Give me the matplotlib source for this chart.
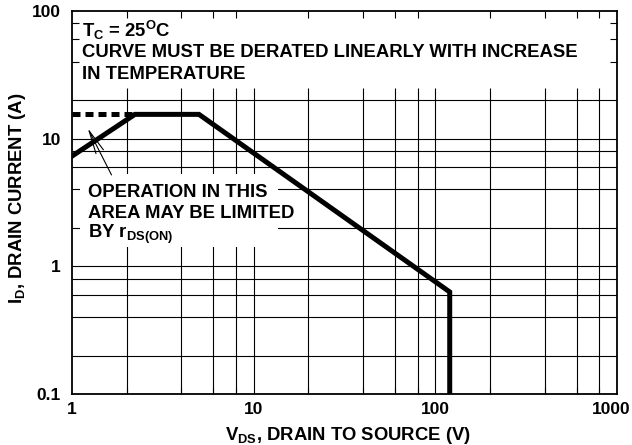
import matplotlib
matplotlib.use("Agg")
from matplotlib import pyplot as plt
from matplotlib.patches import Rectangle
from matplotlib.transforms import ScaledTranslation

plt.rcParams['font.family'] = 'Liberation Sans'
plt.rcParams['font.weight'] = 'bold'
plt.rcParams['mathtext.fontset'] = 'custom'
plt.rcParams['mathtext.rm'] = 'Liberation Sans:bold'
plt.rcParams['mathtext.it'] = 'Liberation Sans:bold'
plt.rcParams['mathtext.bf'] = 'Liberation Sans:bold'

# safe operating area curve
vds = [1, 2.22, 5.0, 120, 120]
i_d = [7.3, 15.5, 15.5, 0.63, 0.1]
# rds(on) limited extension
vds_dash = [1, 2.22]
id_dash = [15.5, 15.5]

x_grid = [2, 4, 6, 8, 10, 20, 40, 60, 80, 100, 200, 400, 600, 800]
y_grid = [0.2, 0.4, 0.6, 0.8, 1, 2, 4, 6, 8, 10, 20]
x_major = [1, 10, 100, 1000]
x_major_labels = ['1', '10', '100', '1000']
y_major = [0.1, 1, 10, 100]
y_major_labels = ['0.1', '1', '10', '100']

fig = plt.figure(figsize=(6.32, 4.45), dpi=100)
ax = fig.add_axes([72/632, 1-394/445, 545/632, 383/445])
ax.set_xscale('log')
ax.set_yscale('log')
ax.set_xlim(1, 1000)
ax.set_ylim(0.1, 100)

# grid (stops below the note at the top)
ax.vlines(x_grid, 0.1, 25, colors='black', lw=0.8, zorder=1)
ax.hlines(y_grid, 1, 1000, colors='black', lw=0.8, zorder=1)

# white area behind the rds(on) note
ax.add_patch(Rectangle((1.1, 1.42), 13.6-1.1, 5.3-1.42, facecolor='white',
                       edgecolor='none', zorder=2))

ax.plot(vds, i_d, color='black', lw=3.6, solid_joinstyle='miter', zorder=4)
ax.plot(vds_dash, id_dash, color='black', lw=3.6, linestyle=(0, (1.6, 1.0)),
        dash_capstyle='butt', zorder=4)

ax.set_xticks(x_major)
ax.set_xticklabels(x_major_labels)
ax.set_yticks(y_major)
ax.set_yticklabels(y_major_labels)
ax.set_xticks(x_grid, minor=True)
ax.set_yticks([40, 60, 80], minor=True)
ax.tick_params(which='major', length=0, labelsize=12.5, pad=6)
ax.tick_params(axis='y', which='major', pad=8)
ax.tick_params(which='minor', direction='in', length=5, width=0.8,
               top=True, right=True, labelbottom=False, labelleft=False)
for lab in ax.get_xticklabels() + ax.get_yticklabels():
    lab.set_fontweight('bold')
# last x label sits a little to the left so it stays inside the figure
last = ax.get_xticklabels()[-1]
last.set_transform(last.get_transform() + ScaledTranslation(-6/100, 0, fig.dpi_scale_trans))
for s in ax.spines.values():
    s.set_linewidth(1.3)
    s.set_zorder(5)

fs = 13.3
ax.text(0.018, 0.933, r'T$_{\mathrm{C}}$ = 25$^{\mathrm{O}}$C', transform=ax.transAxes,
        fontsize=fs, fontweight='bold', va='baseline', zorder=6)
ax.text(0.018, 0.881, 'CURVE MUST BE DERATED LINEARLY WITH INCREASE',
        transform=ax.transAxes, fontsize=fs, fontweight='bold', va='baseline', zorder=6)
ax.text(0.018, 0.822, 'IN TEMPERATURE', transform=ax.transAxes, fontsize=fs,
        fontweight='bold', va='baseline', zorder=6)

ax.text(0.030, 0.515, 'OPERATION IN THIS', transform=ax.transAxes, fontsize=fs,
        fontweight='bold', va='baseline', zorder=6)
ax.text(0.030, 0.459, 'AREA MAY BE LIMITED', transform=ax.transAxes, fontsize=fs,
        fontweight='bold', va='baseline', zorder=6)
ax.text(0.030, 0.408, r'BY r$_{\mathrm{DS(ON)}}$', transform=ax.transAxes, fontsize=fs,
        fontweight='bold', va='baseline', zorder=6)

ax.annotate('', xy=(1.22, 12.1), xytext=(1.65, 5.2),
            arrowprops=dict(arrowstyle='->,head_length=1.4,head_width=0.25',
                            lw=0.8, color='black', mutation_scale=12,
                            shrinkA=0, shrinkB=0), zorder=6)

fig.text(348/632, (445-439.5)/445, r'V$_{\mathrm{DS}}$, DRAIN TO SOURCE (V)',
         ha='center', va='baseline', fontsize=fs, fontweight='bold')
fig.text(22/632, 1-198/445, r'I$_{\mathrm{D}}$, DRAIN CURRENT (A)', rotation=90,
         rotation_mode='anchor', ha='center', va='baseline', fontsize=fs,
         fontweight='bold')

fig.savefig('out.png', dpi=100, facecolor='white')
